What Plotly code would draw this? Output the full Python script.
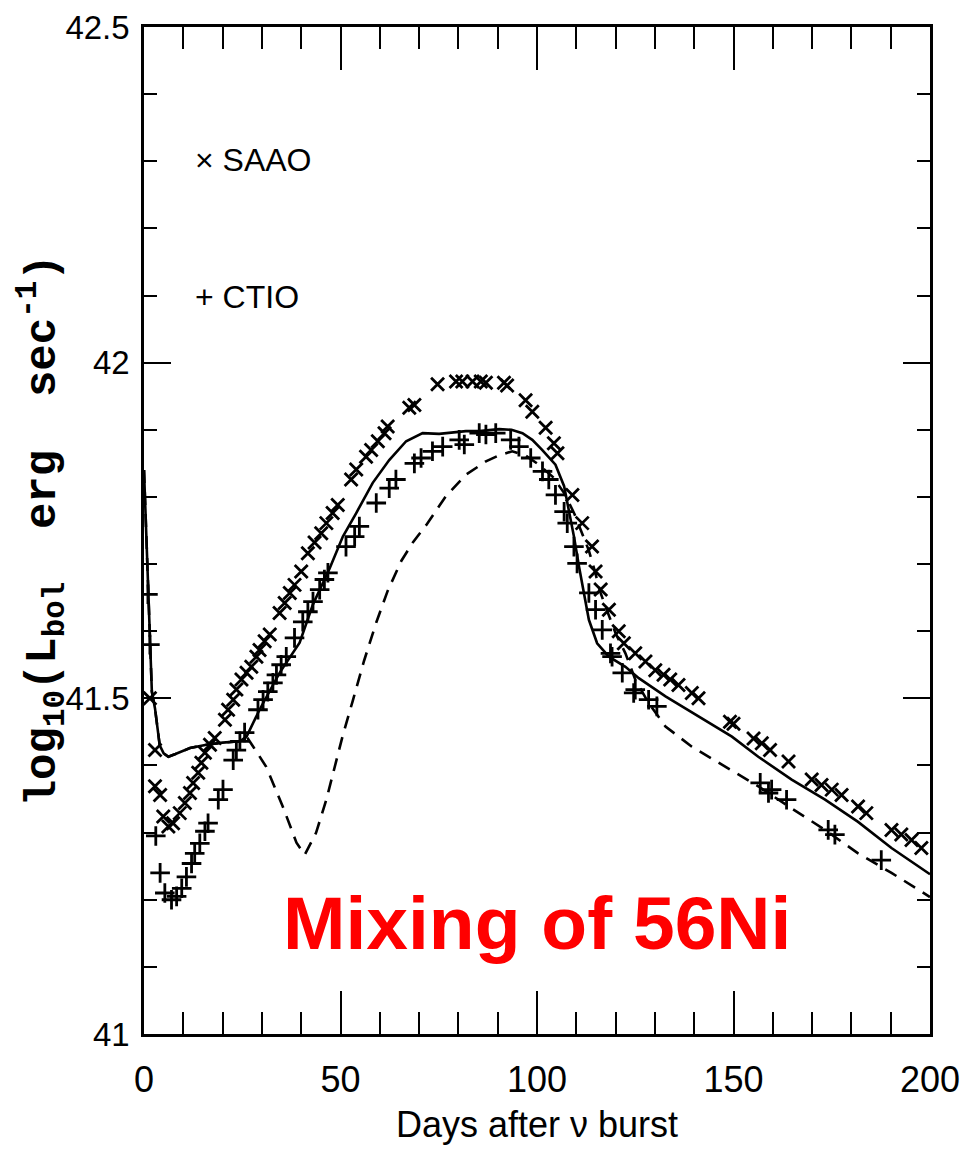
import plotly.graph_objects as go

# Model light curves: log10 bolometric luminosity vs. days after the neutrino burst
model_days = [0, 0.5, 1.0, 1.5, 2.0, 2.8, 4.0, 5.0, 6.2, 8.0, 11.7, 15.9, 20.0, 24.4, 26.1,
              29.4, 34.5, 39.6, 43.0, 47.2, 50.6, 54.0, 58.2, 62.4, 66.7, 70.9, 75.1, 81.9,
              85.3, 90.4, 93.5, 96.3, 98.8, 101.3, 104.7, 106.9, 108.1, 109.4, 110.7, 111.9,
              113.2, 115.3, 118.3, 122.5, 125.9, 132.7, 141.2, 149.6, 156.3, 164.8, 173.3,
              181.7, 190.2, 200.0]
mixed_L = [41.84, 41.76, 41.68, 41.59, 41.51, 41.485, 41.43, 41.418, 41.413, 41.417, 41.426,
           41.431, 41.434, 41.436, 41.443, 41.483, 41.538, 41.583, 41.64, 41.693, 41.741,
           41.776, 41.821, 41.855, 41.883, 41.895, 41.894, 41.898, 41.898, 41.901, 41.900,
           41.895, 41.885, 41.870, 41.848, 41.816, 41.781, 41.741, 41.696, 41.657, 41.617,
           41.582, 41.562, 41.547, 41.530, 41.503, 41.473, 41.443, 41.413, 41.379, 41.349,
           41.316, 41.277, 41.238]

unmixed_days = [0, 0.5, 1.0, 1.5, 2.0, 2.8, 4.0, 5.0, 6.2, 8.0, 11.7, 15.9, 20.0, 24.4, 26.1,
                27.8, 31.1, 35.3, 38.8, 40.9, 43.8, 46.4, 48.1, 50.5, 53.1, 56.0, 59.1, 62.0,
                65.5, 68.5, 71.8, 76.8, 81.9, 87.0, 90.4, 93.7, 97.0, 100.0, 104.0, 107.0,
                109.5, 111.5, 113.2, 114.7, 116.0, 117.4, 120.0, 122.5, 125.0, 128.4, 132.7,
                139.4, 147.9, 156.3, 164.8, 173.3, 181.7, 190.2, 200.0]
unmixed_L = [41.84, 41.76, 41.68, 41.59, 41.51, 41.485, 41.43, 41.418, 41.413, 41.417, 41.426,
             41.431, 41.434, 41.436, 41.443, 41.428, 41.398, 41.339, 41.285, 41.267, 41.300,
             41.349, 41.389, 41.443, 41.496, 41.556, 41.613, 41.660, 41.705, 41.733, 41.758,
             41.801, 41.833, 41.853, 41.862, 41.868, 41.862, 41.850, 41.830, 41.805, 41.775,
             41.745, 41.720, 41.690, 41.660, 41.637, 41.597, 41.567, 41.528, 41.493, 41.458,
             41.428, 41.398, 41.369, 41.336, 41.304, 41.269, 41.240, 41.204]

# SAAO photometry
saao_days = [1.5, 2.8, 2.8, 4.1, 4.9, 6.2, 7.4, 9.1, 10.4, 11.7, 12.5, 13.8, 14.6, 15.5, 16.8,
             18.0, 20.6, 21.4, 22.7, 23.5, 24.8, 26.1, 27.3, 28.6, 29.4, 30.7, 32.0, 34.5,
             35.8, 37.1, 38.3, 40.0, 41.7, 43.4, 45.1, 46.4, 48.0, 49.3, 52.7, 54.0, 56.5,
             57.8, 59.5, 61.2, 62.0, 67.5, 68.8, 74.7, 79.4, 81.0, 83.6, 85.7, 87.0, 91.6,
             92.4, 97.1, 98.8, 102.2, 104.3, 105.2, 109.0, 111.5, 114.0, 114.9, 116.2, 118.3,
             120.8, 122.1, 125.0, 127.6, 130.1, 132.2, 133.9, 136.0, 139.4, 141.1, 149.1,
             150.0, 155.1, 157.2, 159.3, 164.0, 169.9, 172.4, 175.0, 177.5, 181.7, 183.8,
             190.2, 192.7, 195.3, 197.8]
saao_L = [41.50, 41.423, 41.369, 41.356, 41.324, 41.309, 41.314, 41.329, 41.344, 41.359,
          41.374, 41.389, 41.404, 41.419, 41.431, 41.441, 41.468, 41.483, 41.498, 41.513,
          41.528, 41.538, 41.547, 41.562, 41.572, 41.585, 41.595, 41.627, 41.642, 41.657,
          41.669, 41.689, 41.716, 41.732, 41.746, 41.761, 41.776, 41.788, 41.826, 41.841,
          41.860, 41.870, 41.883, 41.895, 41.905, 41.933, 41.937, 41.968, 41.972, 41.972,
          41.972, 41.972, 41.970, 41.970, 41.966, 41.944, 41.927, 41.903, 41.880, 41.865,
          41.803, 41.761, 41.726, 41.689, 41.662, 41.632, 41.600, 41.582, 41.567, 41.555,
          41.542, 41.535, 41.528, 41.520, 41.508, 41.500, 41.465, 41.462, 41.440, 41.433,
          41.423, 41.406, 41.379, 41.371, 41.364, 41.356, 41.339, 41.329, 41.304, 41.297,
          41.289, 41.277]

# CTIO photometry
ctio_days = [1.0, 1.5, 3.0, 4.1, 5.3, 7.0, 8.3, 9.6, 10.8, 12.1, 12.9, 14.2, 15.5, 16.3, 18.9,
             20.1, 22.7, 23.5, 24.4, 25.6, 29.0, 30.3, 31.5, 32.8, 33.7, 34.9, 36.2, 38.3,
             40.4, 41.7, 43.0, 44.7, 45.9, 46.8, 51.4, 53.6, 54.8, 59.1, 62.4, 64.1, 68.8,
             70.5, 73.4, 76.0, 80.2, 81.5, 85.3, 87.0, 89.5, 93.3, 95.4, 98.4, 101.4, 103.0,
             104.7, 106.9, 107.7, 109.4, 110.2, 113.2, 114.9, 116.6, 118.7, 119.1, 121.7,
             124.6, 125.0, 128.4, 130.5, 156.8, 158.9, 159.7, 163.5, 174.1, 175.8, 187.6]
ctio_L = [41.655, 41.58, 41.295, 41.240, 41.210, 41.200, 41.205, 41.217, 41.234, 41.254,
          41.269, 41.284, 41.302, 41.314, 41.349, 41.364, 41.408, 41.423, 41.436, 41.449,
          41.483, 41.498, 41.510, 41.523, 41.535, 41.550, 41.562, 41.590, 41.614, 41.629,
          41.644, 41.662, 41.677, 41.687, 41.726, 41.741, 41.756, 41.791, 41.813, 41.826,
          41.850, 41.858, 41.868, 41.875, 41.885, 41.878, 41.895, 41.893, 41.895, 41.885,
          41.875, 41.858, 41.838, 41.826, 41.803, 41.778, 41.761, 41.726, 41.701, 41.657,
          41.632, 41.602, 41.567, 41.562, 41.538, 41.508, 41.513, 41.498, 41.488, 41.374,
          41.359, 41.364, 41.349, 41.304, 41.297, 41.259]

x_ticks = [0, 50, 100, 150, 200]
y_ticks = [41, 41.5, 42, 42.5]
y_tick_text = ["41", "41.5", "42", "42.5"]

SANS = "Liberation Sans, Arial, sans-serif"
MONO = "Liberation Mono, Courier New, DejaVu Sans Mono, monospace"

fig = go.Figure()

fig.add_trace(go.Scatter(x=model_days, y=mixed_L, mode="lines", name="mixed model",
                         line=dict(color="black", width=2.6), showlegend=False))
fig.add_trace(go.Scatter(x=unmixed_days, y=unmixed_L, mode="lines", name="unmixed model",
                         line=dict(color="black", width=2.6, dash="13px,9px"), showlegend=False))
fig.add_trace(go.Scatter(x=saao_days, y=saao_L, mode="markers", name="SAAO",
                         marker=dict(symbol="x-thin", size=13, color="black",
                                     line=dict(color="black", width=2.8)), showlegend=False))
fig.add_trace(go.Scatter(x=ctio_days, y=ctio_L, mode="markers", name="CTIO",
                         marker=dict(symbol="cross-thin", size=14, color="black",
                                     line=dict(color="black", width=2.8)), showlegend=False))

axis_common = dict(showline=True, linecolor="black", linewidth=2.5, mirror="allticks",
                   ticks="inside", tickcolor="black", tickwidth=2.2, showgrid=False,
                   zeroline=False, ticklabeloverflow="allow", automargin=False)

fig.update_xaxes(range=[0, 200], tickvals=x_ticks, ticklen=43,
                 minor=dict(dtick=10, ticks="inside", ticklen=22, tickcolor="black",
                            tickwidth=2.2, showgrid=False),
                 tickfont=dict(family=SANS, size=36, color="black"),
                 ticklabelstandoff=12, **axis_common)
fig.update_yaxes(range=[41, 42.5], tickvals=y_ticks, ticktext=y_tick_text, ticklen=27,
                 minor=dict(dtick=0.1, ticks="inside", ticklen=13, tickcolor="black",
                            tickwidth=2.2, showgrid=False),
                 tickfont=dict(family=SANS, size=33, color="black"),
                 ticklabelstandoff=5, **axis_common)

annotations = [
    dict(text="Days after \u03bd burst", x=0.5, y=-0.09, xref="paper", yref="paper",
         xanchor="center", yanchor="middle", showarrow=False,
         font=dict(family=SANS, size=36, color="black")),
    dict(text="log<sub>10</sub>(L<sub>bol</sub>\u00a0\u00a0erg\u00a0\u00a0sec<sup>-1</sup>)",
         x=-0.13, y=0.5, xref="paper", yref="paper", textangle=-90,
         xanchor="center", yanchor="middle", showarrow=False,
         font=dict(family=MONO, size=44, color="black", weight="bold")),
    dict(text="\u00d7 SAAO", x=0.062, y=0.868, xref="paper", yref="paper",
         xanchor="left", yanchor="middle", showarrow=False,
         font=dict(family=SANS, size=32, color="black")),
    dict(text="+ CTIO", x=0.062, y=0.732, xref="paper", yref="paper",
         xanchor="left", yanchor="middle", showarrow=False,
         font=dict(family=SANS, size=32, color="black")),
    dict(text="<b>Mixing of 56Ni</b>", x=0.5, y=0.11, xref="paper", yref="paper",
         xanchor="center", yanchor="middle", showarrow=False,
         font=dict(family=SANS, size=75, color="#ff0000")),
]

fig.update_layout(width=960, height=1154, margin=dict(l=144, r=30, t=27, b=120),
                  plot_bgcolor="white", paper_bgcolor="white", annotations=annotations)

fig.write_html("out.html")
